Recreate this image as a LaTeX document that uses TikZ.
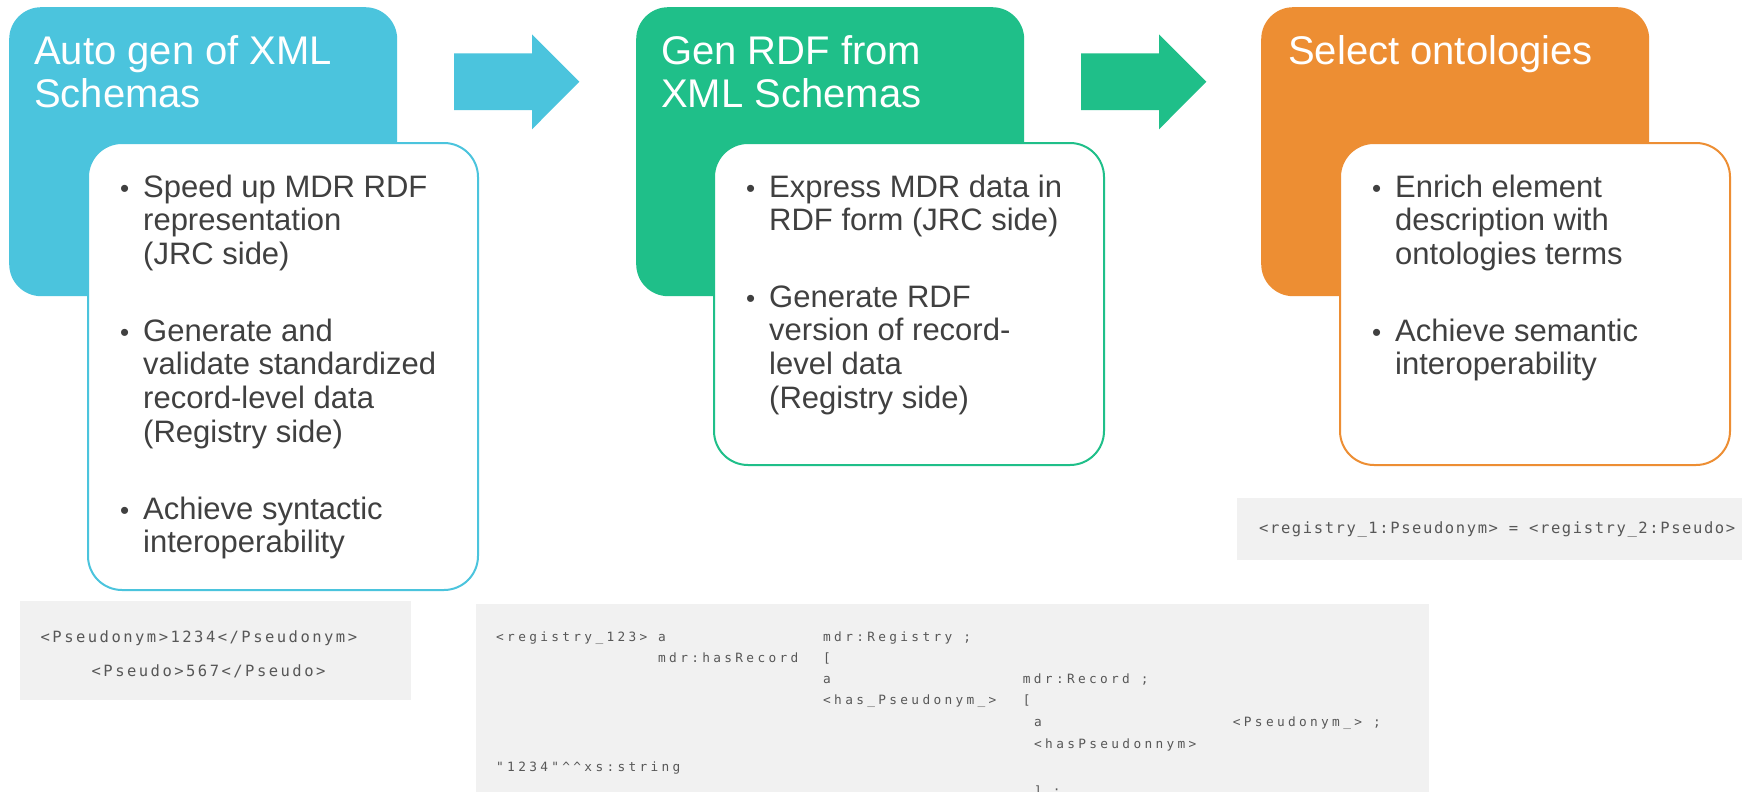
\documentclass[tikz,border=0pt]{standalone}
\usepackage{fontspec}
\setmainfont{Liberation Sans}
\newfontfamily\codefontA{DejaVu Sans Mono}[LetterSpace=26]
\newfontfamily\codefontL{DejaVu Sans Mono}[LetterSpace=16]
\newfontfamily\codefontB{DejaVu Sans Mono}[LetterSpace=10.3]

\definecolor{stepblue}{HTML}{4BC4DD}
\definecolor{stepgreen}{HTML}{1FBF89}
\definecolor{steporange}{HTML}{ED8E33}
\definecolor{textdark}{HTML}{404040}
\definecolor{codebg}{HTML}{F1F1F1}
\definecolor{codetext}{HTML}{575757}

\tikzset{
  headbox/.style={rectangle, rounded corners=32pt, minimum width=388pt,
    minimum height=289pt, anchor=north west, inner sep=0pt, draw=none},
  cardbox/.style={rectangle, rounded corners=34pt, fill=white, line width=2pt,
    minimum width=390pt, anchor=north west, inner sep=0pt},
  titletext/.style={anchor=base west, inner sep=0pt, text=white,
    font=\fontsize{40}{43.5}\selectfont},
  bulletdot/.style={anchor=base west, inner sep=0pt, text=textdark,
    font=\fontsize{26}{33.7}\selectfont},
  itemtext/.style={anchor=base west, inner sep=0pt, text=textdark,
    font=\fontsize{31}{33.7}\selectfont},
  codepanel/.style={rectangle, fill=codebg, anchor=north west, inner sep=0pt},
  codeA/.style={anchor=base west, inner sep=0pt, text=codetext,
    font=\codefontA\fontsize{12.8}{16}\selectfont},
  codeL/.style={anchor=base west, inner sep=0pt, text=codetext,
    font=\codefontL\fontsize{15.5}{18}\selectfont},
  codeB/.style={anchor=base west, inner sep=0pt, text=codetext,
    font=\codefontB\fontsize{15.5}{18}\selectfont},
  blockarrow/.style={draw=none}
}
\newcommand{\itemlines}[1]{\parbox[t]{360pt}{\raggedright #1}}

\begin{document}
\begin{tikzpicture}[x=1pt,y=-1pt]
\useasboundingbox[fill=white] (0,0) rectangle (1742,792);

% ---- step 1: XML schemas ----
\node[headbox, fill=stepblue] (head1) at (9,7) {};
\node[titletext] (title1) at (34,64) {\itemlines{Auto gen of XML\\Schemas}};
\node[cardbox, draw=stepblue, minimum height=447pt] (card1) at (87,142) {};
\node[bulletdot] (dot1a) at (120,197) {•};
\node[itemtext] (item1a) at (143,197) {\itemlines{Speed up MDR RDF\\representation\\(JRC side)}};
\node[bulletdot] (dot1b) at (120,341) {•};
\node[itemtext] (item1b) at (143,341) {\itemlines{Generate and\\validate standardized\\record-level data\\(Registry side)}};
\node[bulletdot] (dot1c) at (120,519) {•};
\node[itemtext] (item1c) at (143,519) {\itemlines{Achieve syntactic\\interoperability}};

% ---- arrow 1 ----
\fill[stepblue, blockarrow] (454,53.3) -- (532,53.3) -- (532,34.3) -- (579.3,81.7)
  -- (532,129.3) -- (532,110) -- (454,110) -- cycle;

% ---- step 2: RDF from XML schemas ----
\node[headbox, fill=stepgreen] (head2) at (636,7) {};
\node[titletext] (title2) at (661,64) {\itemlines{Gen RDF from\\XML Schemas}};
\node[cardbox, draw=stepgreen, minimum height=322pt] (card2) at (713,142) {};
\node[bulletdot] (dot2a) at (746,197) {•};
\node[itemtext] (item2a) at (769,197) {\itemlines{Express MDR data in\\RDF form (JRC side)}};
\node[bulletdot] (dot2b) at (746,307) {•};
\node[itemtext] (item2b) at (769,307) {\itemlines{Generate RDF\\version of record-\\level data\\(Registry side)}};

% ---- arrow 2 ----
\fill[stepgreen, blockarrow] (1081,53.3) -- (1159,53.3) -- (1159,34.3) -- (1206.3,81.7)
  -- (1159,129.3) -- (1159,110) -- (1081,110) -- cycle;

% ---- step 3: ontologies ----
\node[headbox, fill=steporange] (head3) at (1261,7) {};
\node[titletext] (title3) at (1288,64) {\itemlines{Select ontologies}};
\node[cardbox, draw=steporange, minimum height=322pt] (card3) at (1339,142) {};
\node[bulletdot] (dot3a) at (1372,197) {•};
\node[itemtext] (item3a) at (1395,197) {\itemlines{Enrich element\\description with\\ontologies terms}};
\node[bulletdot] (dot3b) at (1372,341) {•};
\node[itemtext] (item3b) at (1395,341) {\itemlines{Achieve semantic\\interoperability}};

% ---- XML sample ----
\node[codepanel, minimum width=391pt, minimum height=99pt] (xmlpanel) at (20,601) {};
\node[codeL] (xml1) at (40.5,642.5) {<Pseudonym>1234</Pseudonym>};
\node[codeL] (xml2) at (91.5,676.5) {<Pseudo>567</Pseudo>};

% ---- RDF (Turtle) sample ----
\node[codepanel, minimum width=953pt, minimum height=200pt] (rdfpanel) at (476,604) {};
\node[codeA] (r1a) at (496,641) {<registry\_123>};
\node[codeA] (r1b) at (658,641) {a};
\node[codeA] (r1c) at (823,641) {mdr:Registry ;};
\node[codeA] (r2a) at (658,662) {mdr:hasRecord};
\node[codeA] (r2b) at (823,662) {[};
\node[codeA] (r3a) at (823,683) {a};
\node[codeA] (r3b) at (1022.7,683) {mdr:Record ;};
\node[codeA] (r4a) at (823,704) {<has\_Pseudonym\_>};
\node[codeA] (r4b) at (1022.7,704) {[};
\node[codeA] (r5a) at (1034,726) {a};
\node[codeA] (r5b) at (1232.7,726) {<Pseudonym\_> ;};
\node[codeA] (r6a) at (1034,748) {<hasPseudonnym>};
\node[codeA] (r7a) at (496,771) {"1234"\textasciicircum\textasciicircum xs:string};
\node[codeA] (r8a) at (1034,795) {] ;};

% ---- equivalence sample ----
\node[codepanel, minimum width=510pt, minimum height=62pt] (eqpanel) at (1237,498) {};
\node[codeB] (eq1) at (1259,533.5) {<registry\_1:Pseudonym> = <registry\_2:Pseudo>};
\end{tikzpicture}
\end{document}
